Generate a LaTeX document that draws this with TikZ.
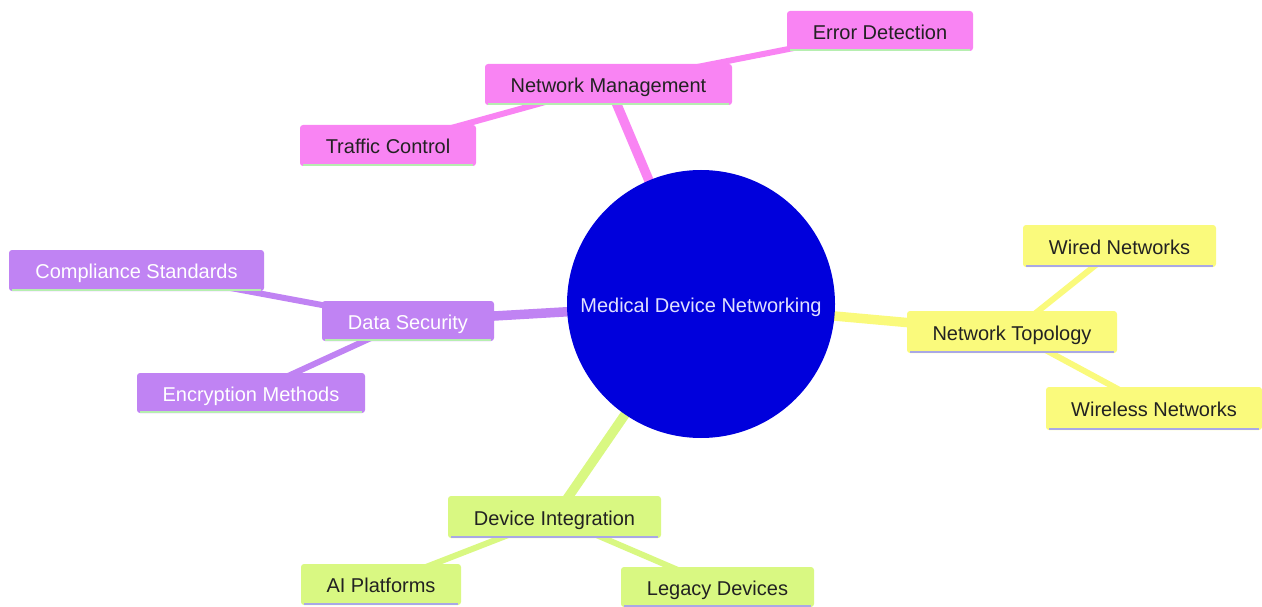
\documentclass[tikz,border=0pt]{standalone}
\usepackage{fontspec}
\setmainfont{Liberation Sans}
\usetikzlibrary{backgrounds}
\definecolor{cpink}{HTML}{F984F3}
\definecolor{cpurple}{HTML}{C083F3}
\definecolor{cyellow}{HTML}{FAFA7C}
\definecolor{clime}{HTML}{D9F882}
\definecolor{cgreenb}{HTML}{B6EEB0}
\definecolor{clavb}{HTML}{A9A8E6}
\definecolor{croot}{HTML}{0000DC}
\definecolor{cdark}{HTML}{222222}
\tikzset{
  mfont/.style={font=\fontsize{20}{24}\selectfont, text height=20.5pt, text depth=4pt},
  mbox/.style={rectangle, rounded corners=3pt, inner sep=0pt, mfont},
  pinkbox/.style={mbox, fill=cpink, text=cdark},
  purplebox/.style={mbox, fill=cpurple, text=white},
  yellowbox/.style={mbox, fill=cyellow, text=cdark},
  limebox/.style={mbox, fill=clime, text=cdark},
  gborder/.style={draw=cgreenb, line width=2.5pt},
  lborder/.style={draw=clavb, line width=2.5pt},
  rootedge/.style={line width=9.5pt},
  subedge/.style={line width=6pt},
}
\begin{document}
\begin{tikzpicture}[x=1pt,y=-1pt]
\useasboundingbox (0,0) rectangle (1262,607);
% root
\node[circle, fill=croot, minimum size=268pt, inner sep=0pt, text=white!88!blue, mfont] (root) at (701,304) {Medical Device Networking};
% pink
\node[pinkbox, minimum width=247pt, minimum height=41pt] (nm) at (608.5,84.5) {Network Management};
\node[pinkbox, minimum width=186pt, minimum height=40pt] (ed) at (880,31) {Error Detection};
\node[pinkbox, minimum width=176pt, minimum height=41pt] (tc) at (388,145.5) {Traffic Control};
% purple
\node[purplebox, minimum width=172pt, minimum height=40pt] (ds) at (408,321) {Data Security};
\node[purplebox, minimum width=255pt, minimum height=41pt] (cs) at (136.5,270.5) {Compliance Standards};
\node[purplebox, minimum width=228pt, minimum height=40pt] (em) at (251,393) {Encryption Methods};
% yellow
\node[yellowbox, minimum width=210pt, minimum height=42pt] (nt) at (1012,332) {Network Topology};
\node[yellowbox, minimum width=193pt, minimum height=42pt] (wn) at (1119.5,246) {Wired Networks};
\node[yellowbox, minimum width=216pt, minimum height=43pt] (wl) at (1154,408.5) {Wireless Networks};
% lime
\node[limebox, minimum width=213pt, minimum height=42pt] (di) at (554.5,517) {Device Integration};
\node[limebox, minimum width=160pt, minimum height=41pt] (ai) at (381,584.5) {AI Platforms};
\node[limebox, minimum width=193pt, minimum height=40pt] (ld) at (717.5,587) {Legacy Devices};
% bottom borders
\foreach \n in {nm,ed,tc,ds,cs,em}{
  \draw[gborder] ([xshift=3pt,yshift=1.25pt]\n.south west) -- ([xshift=-3pt,yshift=1.25pt]\n.south east);
}
\foreach \n in {nt,wn,wl,di,ai,ld}{
  \draw[lborder] ([xshift=3pt,yshift=1.25pt]\n.south west) -- ([xshift=-3pt,yshift=1.25pt]\n.south east);
}
\begin{scope}[on background layer]
\draw[rootedge, cpink] (root.center) -- (nm.center);
\draw[subedge, cpink] (nm.center) -- (ed.center);
\draw[subedge, cpink] (nm.center) -- (tc.center);
\draw[rootedge, cpurple] (root.center) -- (ds.center);
\draw[subedge, cpurple] (ds.center) -- (cs.center);
\draw[subedge, cpurple] (ds.center) -- (em.center);
\draw[rootedge, cyellow] (root.center) -- (nt.center);
\draw[subedge, cyellow] (nt.center) -- (wn.center);
\draw[subedge, cyellow] (nt.center) -- (wl.center);
\draw[rootedge, clime] (root.center) -- (di.center);
\draw[subedge, clime] (di.center) -- (ai.center);
\draw[subedge, clime] (di.center) -- (ld.center);
\end{scope}
\end{tikzpicture}
\end{document}
